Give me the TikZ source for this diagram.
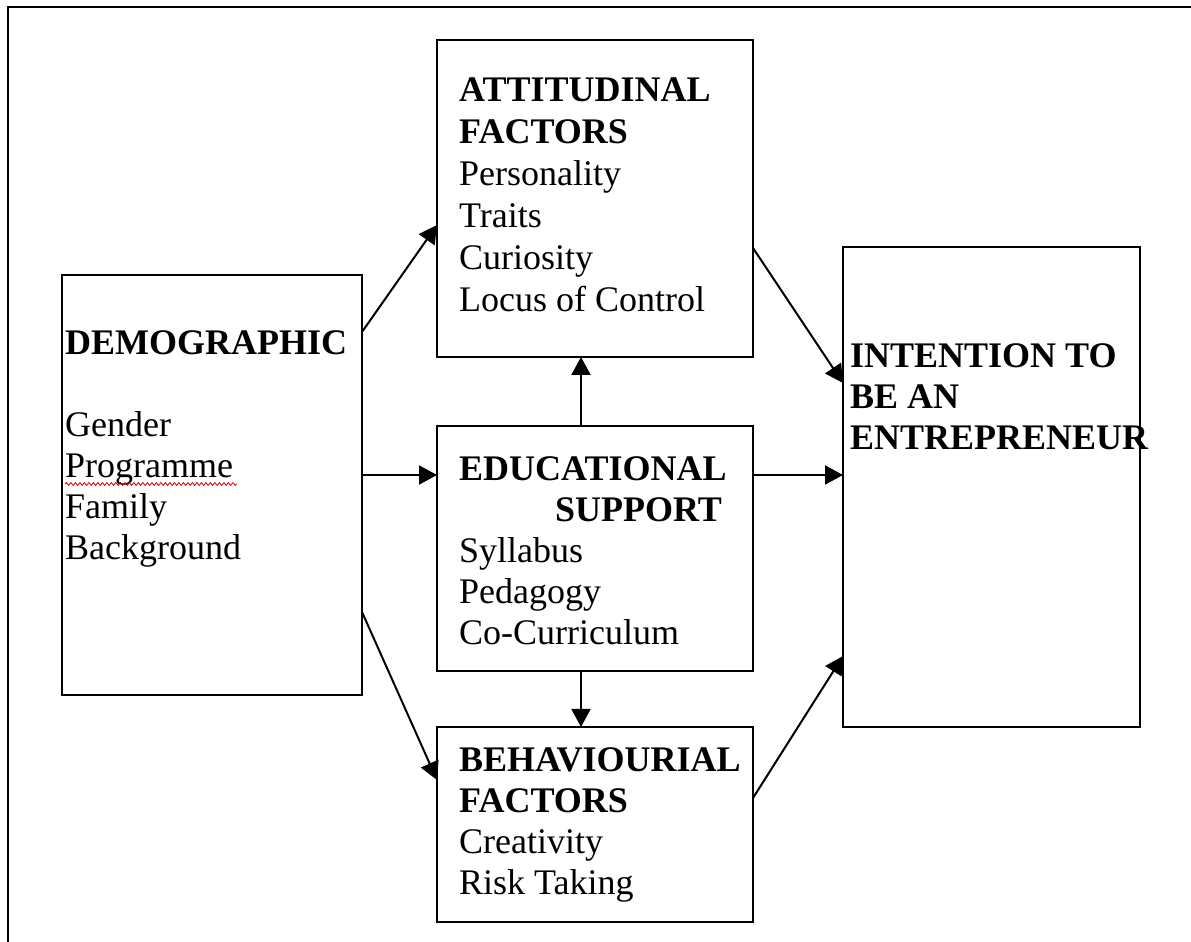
\documentclass[tikz,border=0pt]{standalone}
\usepackage{fontspec}
\setmainfont{Liberation Serif}
\usetikzlibrary{arrows.meta,decorations.pathmorphing}
\newcommand\bodyfont{\fontsize{36}{41}\selectfont}
\newcommand\attfont{\fontsize{36}{42}\selectfont}
\begin{document}
\begin{tikzpicture}[x=1pt,y=1pt,
  box/.style={draw,line width=2pt,inner sep=0pt,outer sep=0pt},
  txt/.style={anchor=north west,inner sep=0pt,align=left,font=\bodyfont},
  arr/.style={line width=2pt,-{Triangle[length=18pt,width=19pt]}}]
\useasboundingbox (0,0) rectangle (1191,942);
% outer frame
\draw[line width=2.2pt] (8,-5) -- (8,935) -- (1196,935);
% boxes
\node[box,minimum width=300pt,minimum height=420pt] (demo) at (212,457) {};
\node[box,minimum width=316pt,minimum height=317pt] (att) at (595,743.5) {};
\node[box,minimum width=316pt,minimum height=245pt] (edu) at (595,393.5) {};
\node[box,minimum width=316pt,minimum height=195pt] (beh) at (595,117.5) {};
\node[box,minimum width=297pt,minimum height=480pt] (int) at (991.5,455) {};
% texts
\node[txt] (demotxt) at (65,616.7) {\strut\textbf{DEMOGRAPHIC}\\ \strut\\ Gender\\ Programme\\ Family\\ Background};
\node[txt,font=\attfont] (atttxt) at (459,870.5) {\strut\textbf{ATTITUDINAL}\\ \textbf{FACTORS}\\ Personality\\ Traits\\ Curiosity\\ Locus of Control};
\node[txt] (edutxt) at (459,490.7) {\strut\textbf{EDUCATIONAL}\\ \hspace*{96pt}\textbf{SUPPORT}\\ Syllabus\\ Pedagogy\\ Co-Curriculum};
\node[txt] (behtxt) at (459,199.7) {\strut\textbf{BEHAVIOURIAL}\\ \textbf{FACTORS}\\ Creativity\\ Risk Taking};
\node[txt] (inttxt) at (850,603.7) {\strut\textbf{INTENTION TO}\\ \textbf{BE AN}\\ \textbf{ENTREPRENEUR}};
% spell-check underline
\coordinate (wavyA) at (65,458);
\coordinate (wavyB) at (237,458);
\draw[red!80!black,line width=0.8pt,decorate,decoration={snake,amplitude=1.4pt,segment length=4.5pt}] (wavyA) -- (wavyB);
% arrows
\draw[arr] ([yshift=-57pt]demo.north east) -- ([yshift=-185pt]att.north west);
\draw[arr] ([yshift=-200pt]demo.north east) -- ([yshift=-49pt]edu.north west);
\draw[arr] ([yshift=-337pt]demo.north east) -- ([yshift=-53pt]beh.north west);
\draw[arr] ([yshift=-208pt]att.north east) -- ([yshift=-136pt]int.north west);
\draw[arr] ([yshift=-49pt]edu.north east) -- ([yshift=-228pt]int.north west);
\draw[arr] ([yshift=-71pt]beh.north east) -- ([yshift=-409pt]int.north west);
\draw[arr] ([xshift=-14pt]edu.north) -- ([xshift=-14pt]att.south);
\draw[arr] ([xshift=-14pt]edu.south) -- ([xshift=-14pt]beh.north);
\end{tikzpicture}
\end{document}
